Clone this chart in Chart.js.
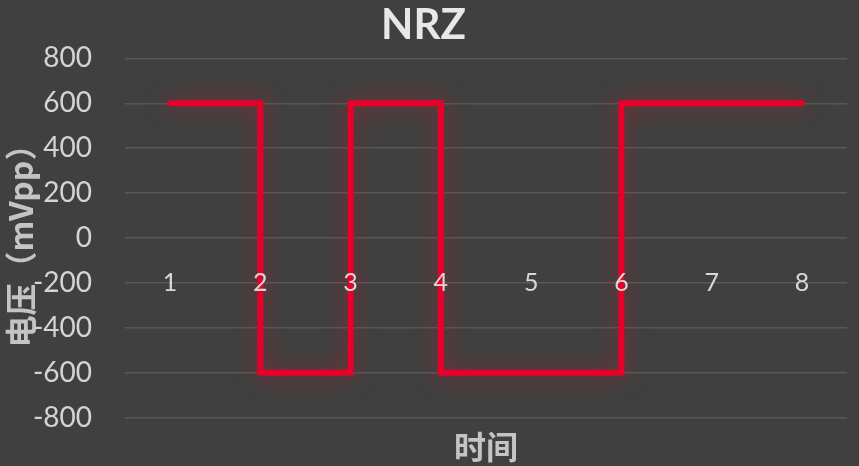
<!DOCTYPE html>
<html>
<head>
<meta charset="utf-8">
<script src="https://cdn.jsdelivr.net/npm/chart.js@4/dist/chart.umd.min.js"></script>
<style>
  html, body { margin: 0; padding: 0; background: #404040; }
  #wrap { width: 859px; height: 466px; position: relative; }
</style>
</head>
<body>
<div id="wrap"><canvas id="nrzChart"></canvas></div>
<script>
const categories = ['1', '2', '3', '4', '5', '6', '7', '8'];
const bitLevels = [600, -600, 600, -600, -600, 600, 600, 600]; // mVpp, level entered at each point
const yTicks = [-800, -600, -400, -200, 0, 200, 400, 600, 800];

// red glow under the line
const glowPlugin = {
    id: 'glow',
    beforeDatasetsDraw(chart) {
        const ctx = chart.ctx;
        ctx.save();
        ctx.shadowColor = 'rgba(210, 20, 35, 0.6)';
        ctx.shadowBlur = 22;
    },
    afterDatasetsDraw(chart) {
        chart.ctx.restore();
    }
};

const ctx = document.getElementById('nrzChart').getContext('2d');
new Chart(ctx, {
    type: 'line',
    data: {
        labels: categories,
        datasets: [{
            label: 'NRZ',
            data: bitLevels,
            stepped: true,
            borderColor: '#e8002a',
            borderWidth: 6,
            borderCapStyle: 'round',
            borderJoinStyle: 'miter',
            pointRadius: 0,
            fill: false
        }]
    },
    options: {
        responsive: true,
        maintainAspectRatio: false,
        animation: {duration: 0},
        layout: {padding: {left: 0, right: 12, top: 0, bottom: 0}},
        plugins: {
            legend: {display: false},
            tooltip: {enabled: false},
            title: {
                display: true,
                text: 'NRZ',
                color: '#e8e8e8',
                font: {family: 'Lato', size: 42, weight: 'bold'},
                padding: {top: 0, bottom: 8}
            },
            subtitle: {
                display: true,
                position: 'bottom',
                fullSize: false,
                text: '时间',
                color: '#c4c4c4',
                font: {family: 'Noto Sans CJK SC', size: 32, weight: 'bold'},
                padding: {top: 10, bottom: 0}
            }
        },
        scales: {
            x: {
                position: {y: 0},
                offset: true,
                grid: {display: false, drawTicks: false},
                border: {display: false},
                ticks: {
                    z: 1,
                    color: '#d8d8d8',
                    font: {family: 'Lato', size: 25},
                    padding: 30,
                    maxRotation: 0
                }
            },
            y: {
                min: -800,
                max: 800,
                afterBuildTicks: scale => { scale.ticks = yTicks.map(v => ({value: v})); },
                afterFit: scale => {
                    scale.width = 125;
                    // tick padding is horizontal gap only; don't let it push the plot edges
                    scale.paddingTop = 17;
                    scale.paddingBottom = 17;
                },
                grid: {color: '#585858', lineWidth: 1.5, drawTicks: false},
                border: {display: false},
                ticks: {
                    color: '#d4d4d4',
                    font: {family: 'Lato', size: 28},
                    padding: 33
                },
                title: {
                    display: true,
                    text: '电压（mVpp）',
                    color: '#c4c4c4',
                    font: {family: 'Noto Sans CJK SC', size: 32, weight: 'bold'},
                    padding: {top: 2, bottom: 0}
                }
            }
        }
    },
    plugins: [glowPlugin]
});
</script>
</body>
</html>
